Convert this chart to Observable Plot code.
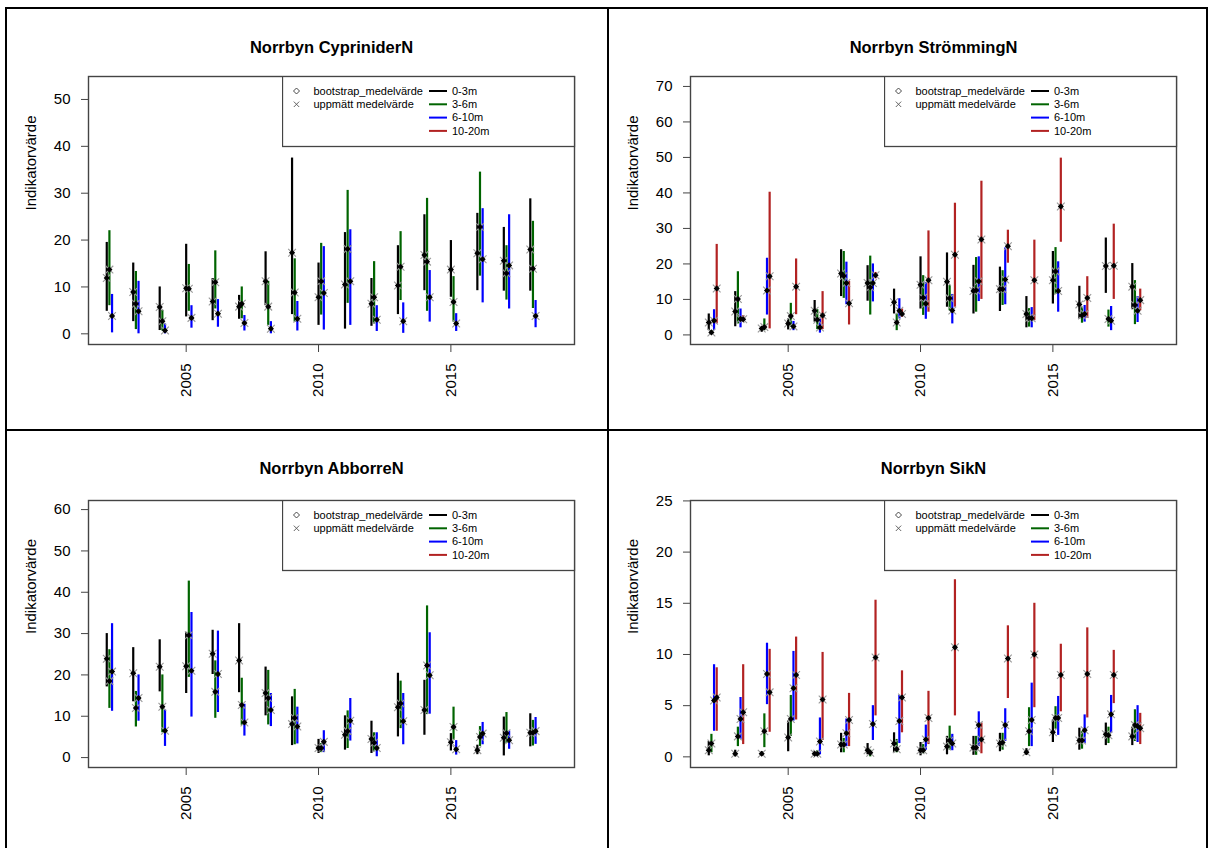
<!DOCTYPE html>
<html><head><meta charset="utf-8">
<script src="https://cdn.jsdelivr.net/npm/d3@7"></script>
<script src="https://cdn.jsdelivr.net/npm/@observablehq/plot@0.6"></script>
<style>
body{margin:0;background:#fff;font-family:"Liberation Sans",Arial,sans-serif;}
#page{position:relative;width:1208px;height:848px;overflow:hidden;background:#fff;}
.sep{position:absolute;background:#000;}
</style></head><body><div id="page"></div>
<script>
// ---------- data ----------
const years = [2002,2003,2004,2005,2006,2007,2008,2009,2010,2011,2012,2013,2014,2015,2016,2017,2018];
const depths = ["0-3m","3-6m","6-10m","10-20m"];
const xTicks = [2005,2010,2015];
const yLabel = "Indikatorvärde";
const legendSymbols = ["bootstrap_medelvärde","uppmätt medelvärde"];
const titles = ["Norrbyn CypriniderN","Norrbyn StrömmingN","Norrbyn AbborreN","Norrbyn SikN"];
const yTicksCyp = [0,10,20,30,40,50];
const yTicksStr = [0,10,20,30,40,50,60,70];
const yTicksAbb = [0,10,20,30,40,50,60];
const yTicksSik = [0,5,10,15,20,25];

// each entry: [lower, mean, upper]
const cyp03 = [[4.8,11.9,19.5],[2.6,8.9,15.1],[0.7,5.7,10.0],[3.6,9.7,19.1],[2.8,6.9,11.8],[3.1,5.8,8.2],[6.0,11.2,17.5],[4.1,17.3,37.5],[1.8,7.8,15.1],[1.0,10.5,21.6],[1.6,6.4,11.8],[4.1,10.3,18.8],[9.2,16.8,25.4],[7.8,13.7,19.9],[9.2,17.2,25.7],[9.1,15.6,22.7],[9.1,18.0,28.8]];
const cyp36 = [[6.0,13.7,22.0],[0.9,6.4,13.3],[0.6,2.7,5.0],[4.8,9.6,14.8],[5.3,11.0,17.7],[3.2,6.4,10.0],[1.8,5.8,11.2],[2.5,8.8,16.0],[4.0,11.2,19.3],[6.5,18.1,30.6],[2.1,7.8,15.4],[7.1,14.3,21.8],[4.8,15.4,28.9],[2.5,6.8,12.2],[12.3,22.8,34.5],[7.2,12.9,18.8],[5.4,13.9,24.0]];
const cyp610 = [[0.2,3.8,8.4],[0.0,4.8,11.2],[0.0,0.7,2.1],[1.2,3.4,6.0],[1.4,4.3,7.3],[0.6,2.3,3.9],[0.0,1.1,2.6],[0.6,3.2,6.9],[0.8,8.7,18.6],[1.8,11.2,22.2],[0.5,3.0,6.0],[0.1,2.7,6.6],[2.5,7.8,13.5],[0.5,2.2,4.3],[6.6,15.9,26.7],[5.3,14.6,25.4],[1.3,3.8,7.1]];

const str03 = [[1.2,3.5,5.9],[2.3,6.6,12.2],[0.75,1.8,2.2],[1.4,3.2,4.5],[3.6,6.8,9.7],[10.8,17.3,24.0],[9.5,14.6,19.5],[5.9,9.2,12.9],[7.3,14.1,22.0],[7.8,15.0,23.1],[5.9,12.4,19.6],[6.6,12.9,19.1],[2.0,5.9,10.8],[8.7,15.4,23.5],[4.5,8.6,13.7],[11.7,19.4,27.3],[7.1,13.6,20.1]];
const str36 = [[0.3,0.7,1.2],[3.1,10.1,17.8],[1.2,2.2,4.5],[2.2,5.3,8.9],[1.5,4.3,7.1],[10.3,16.6,23.5],[5.6,13.4,22.2],[1.2,3.5,5.9],[5.5,10.5,16.7],[6.8,10.3,13.9],[6.4,12.6,21.8],[8.3,12.9,18.1],[2.2,4.8,7.4],[11.4,17.9,24.6],[3.3,5.5,7.8],[2.2,4.5,7.0],[2.9,8.4,15.3]];
const str610 = [[1.2,4.0,7.1],[2.0,4.5,7.3],[5.6,12.5,21.6],[1.2,2.4,3.8],[0.5,2.1,4.5],[8.5,14.6,20.5],[9.3,14.6,20.0],[4.5,6.8,10.2],[4.4,8.8,14.8],[3.1,6.9,11.4],[9.4,15.1,22.0],[8.5,15.6,24.5],[2.0,4.7,7.7],[6.4,12.4,20.6],[3.6,5.9,8.3],[1.2,4.0,8.0],[3.5,6.8,10.8]];
const str1020 = [[3.1,13.1,25.5],[3.6,4.4,5.4],[1.7,16.5,40.2],[5.7,13.6,21.4],[1.5,5.5,12.2],[2.8,8.9,15.1],[15.8,16.8,17.6],[5.0,5.9,7.3],[6.4,15.4,29.3],[7.8,22.6,37.1],[10.0,26.9,43.3],[20.2,25.0,29.5],[4.0,15.4,26.7],[26.1,36.2,49.8],[4.7,10.4,16.4],[10.0,19.5,31.2],[6.8,9.8,12.9]];

const abb03 = [[17.1,23.9,30.0],[13.5,20.4,26.6],[15.9,22.0,28.5],[15.5,22.1,30.3],[20.1,25.1,30.8],[15.7,23.5,32.4],[10.1,15.6,21.9],[2.9,8.1,14.7],[1.0,2.3,4.4],[1.8,5.5,10.1],[1.0,4.5,8.8],[5.0,12.2,20.4],[5.4,11.5,18.7],[1.6,3.7,5.8],[0.7,1.8,3.0],[0.4,4.8,9.8],[2.6,6.0,10.6]];
const abb36 = [[11.9,18.5,26.1],[7.4,12.0,16.0],[6.0,12.3,20.0],[19.4,29.6,42.7],[9.5,15.9,23.4],[7.8,12.7,19.2],[7.9,14.4,21.1],[3.1,9.6,16.5],[1.2,2.3,3.4],[2.2,6.4,11.3],[1.4,3.6,6.0],[7.0,13.1,18.5],[10.4,22.3,36.7],[4.2,7.4,12.2],[2.7,5.0,7.5],[3.4,5.9,10.9],[2.8,6.0,9.0]];
const abb610 = [[11.2,20.8,32.4],[8.8,14.4,20.0],[2.7,6.5,11.5],[9.8,21.0,35.1],[10.9,20.2,30.6],[5.2,8.5,12.9],[7.5,11.5,15.5],[3.3,7.5,12.2],[1.2,3.8,6.5],[4.0,8.9,14.3],[0.2,2.3,6.0],[3.1,8.8,15.5],[10.5,19.9,30.2],[0.6,2.0,4.1],[3.1,5.8,8.5],[2.0,4.2,6.4],[3.2,6.4,9.7]];

const sik03 = [[0.1,0.65,1.5],[0,0.3,0.65],[0.15,0.3,0.5],[0.5,1.9,3.5],[0.1,0.3,0.5],[0.4,1.2,2.3],[0.2,0.65,1.3],[0.4,1.3,2.35],[0.1,0.65,1.4],[0.2,1.0,2.0],[0.15,0.9,2.0],[0.5,1.3,2.3],[0.15,0.45,0.8],[1.4,2.4,3.6],[0.65,1.6,2.8],[1.1,2.2,3.3],[1.1,2.0,2.9]];
const sik36 = [[0.4,1.3,2.2],[1.0,2.0,2.9],[0.9,2.5,4.2],[2.0,3.7,6.0],[0.1,0.3,0.6],[0.4,1.2,1.8],[0,0.4,0.65],[0.4,0.75,1.7],[0.3,0.65,1.2],[0.65,1.6,3.0],[0.15,0.9,2.0],[0.65,1.4,2.3],[1.0,2.5,4.8],[2.7,3.8,4.9],[0.75,1.6,2.45],[1.3,2.1,2.9],[1.5,3.1,4.6]];
const sik610 = [[2.5,5.5,9.0],[1.7,3.7,5.8],[5.1,8.1,11.1],[3.5,6.7,10.3],[0.2,1.5,3.8],[1.0,2.3,3.7],[1.6,3.2,5.0],[1.3,3.5,6.0],[0.65,1.7,3.1],[0.6,1.3,2.2],[1.0,3.1,4.4],[1.5,3.1,4.7],[1.0,3.6,7.2],[2.1,3.8,5.9],[1.3,2.6,4.1],[2.3,4.15,6.0],[1.4,3.0,5.0]];
const sik1020 = [[2.5,5.8,8.7],[1.2,4.35,9.0],[2.4,6.3,10.5],[3.6,8.0,11.7],[1.6,5.6,10.2],[1.0,3.6,6.2],[4.0,9.7,15.3],[2.35,5.8,8.4],[1.2,3.8,6.4],[4.0,10.7,17.3],[0.3,1.7,3.3],[5.7,9.6,12.8],[4.8,10.0,15.0],[4.4,8.0,11.0],[3.8,8.1,12.6],[5.2,8.0,10.4],[1.2,2.8,4.25]];

// ---------- layout / style ----------
const depthColors = ["#000000","#006400","#0000ff","#b22222"];
const dodge = 0.1; // horizontal shift (in years) between depth series
const xDomain = [2001.31, 2019.67];
const FONT = '"Liberation Sans", Arial, sans-serif';
const page = document.getElementById("page");

function buildRows(series){
  const out = [];
  series.forEach((arr, i) => arr.forEach((t, j) => {
    if (t) out.push({year: years[j], depth: depths[i], k: i, lo: t[0], mean: t[1], hi: t[2]});
  }));
  return out;
}

function panel(cfg){
  const data = buildRows(cfg.series);
  const X = d => d.year + d.k * dodge;
  const svg = Plot.plot({
    width: cfg.w, height: cfg.h,
    marginLeft: cfg.ml, marginRight: cfg.mr, marginTop: cfg.mt, marginBottom: cfg.mb,
    x: {domain: xDomain},
    y: {domain: cfg.yDomain},
    color: {domain: depths, range: depthColors},
    style: {fontFamily: FONT, background: "transparent", overflow: "visible", color: "#000"},
    marks: [
      Plot.ruleX(data, {x: X, y1: "lo", y2: "hi", stroke: "depth", strokeWidth: 2.2}),
      Plot.dot(data, {x: X, y: "mean", symbol: "times", r: 3.6, stroke: "#999", strokeWidth: 1.1}),
      Plot.dot(data, {x: X, y: "mean", symbol: "diamond2", r: 2.0, fill: "#000", stroke: "#000", strokeWidth: 1.2}),
      Plot.frame({stroke: "#444", strokeWidth: 1.4}),
      Plot.axisY({ticks: cfg.yTicks, tickSize: 7, tickPadding: 11, fontSize: 15, label: null, stroke: "#444"}),
      Plot.axisX({ticks: xTicks, tickFormat: d => String(d), tickRotate: -90, tickSize: 8, tickPadding: 11, fontSize: 15, label: null, stroke: "#444"}),
      Plot.text([cfg.title], {frameAnchor: "top", dy: cfg.titleDy, fontSize: 16.5, fontWeight: "bold"}),
      Plot.text([yLabel], {frameAnchor: "left", rotate: -90, dx: -57, fontSize: 15})
    ]
  });
  svg.style.position = "absolute";
  svg.style.left = cfg.left + "px";
  svg.style.top = cfg.top + "px";
  page.appendChild(svg);
  legend(cfg.left + cfg.w - cfg.mr - 292, cfg.top + cfg.mt);
}

function legend(left, top){
  const svg = d3.select(page).append("svg")
    .attr("width", 294).attr("height", 72)
    .style("position", "absolute").style("left", left + "px").style("top", top + "px")
    .style("font-family", FONT).style("font-size", "11px");
  svg.append("rect").attr("x", 0.5).attr("y", 0.5).attr("width", 292).attr("height", 70)
    .attr("fill", "#fff").attr("stroke", "#444").attr("stroke-width", 1.3);
  const rowY = i => 15 + i * 13.3;
  svg.append("path").attr("d", `M14.5,${rowY(0)-3}L17.5,${rowY(0)}L14.5,${rowY(0)+3}L11.5,${rowY(0)}Z`)
    .attr("fill", "none").attr("stroke", "#333").attr("stroke-width", 0.9);
  svg.append("path").attr("d", `M11.8,${rowY(1)-2.7}L17.2,${rowY(1)+2.7}M17.2,${rowY(1)-2.7}L11.8,${rowY(1)+2.7}`)
    .attr("stroke", "#555").attr("stroke-width", 0.9);
  legendSymbols.forEach((t, i) => svg.append("text").attr("x", 31.5).attr("y", rowY(i)).attr("dy", "0.35em").text(t));
  depths.forEach((dname, i) => {
    svg.append("line").attr("x1", 147).attr("x2", 165).attr("y1", rowY(i)).attr("y2", rowY(i))
      .attr("stroke", depthColors[i]).attr("stroke-width", 2);
    svg.append("text").attr("x", 170).attr("y", rowY(i)).attr("dy", "0.35em").text(dname);
  });
}

panel({left: 0, top: 0, w: 607, h: 430, ml: 88, mr: 33, mt: 76, mb: 86, titleDy: -35,
  title: titles[0], yDomain: [-2.28, 54.9], yTicks: yTicksCyp, series: [cyp03, cyp36, cyp610]});
panel({left: 607, top: 0, w: 601, h: 430, ml: 83, mr: 32, mt: 76, mb: 86, titleDy: -35,
  title: titles[1], yDomain: [-2.7, 72.8], yTicks: yTicksStr, series: [str03, str36, str610, str1020]});
panel({left: 0, top: 430, w: 607, h: 418, ml: 88, mr: 33, mt: 70, mb: 81, titleDy: -38,
  title: titles[2], yDomain: [-2.4, 62.2], yTicks: yTicksAbb, series: [abb03, abb36, abb610]});
panel({left: 607, top: 430, w: 601, h: 418, ml: 83, mr: 32, mt: 70, mb: 81, titleDy: -38,
  title: titles[3], yDomain: [-1.04, 25.04], yTicks: yTicksSik, series: [sik03, sik36, sik610, sik1020]});

// page grid (table borders)
function sep(l, t, w, h){ const d = document.createElement("div"); d.className = "sep";
  d.style.left = l + "px"; d.style.top = t + "px"; d.style.width = w + "px"; d.style.height = h + "px"; page.appendChild(d); }
sep(5, 7, 1203, 2);
sep(5, 429, 1203, 2);
sep(5, 7, 2, 841);
sep(607, 7, 2, 841);
sep(1206, 7, 2, 841);
</script></body></html>
